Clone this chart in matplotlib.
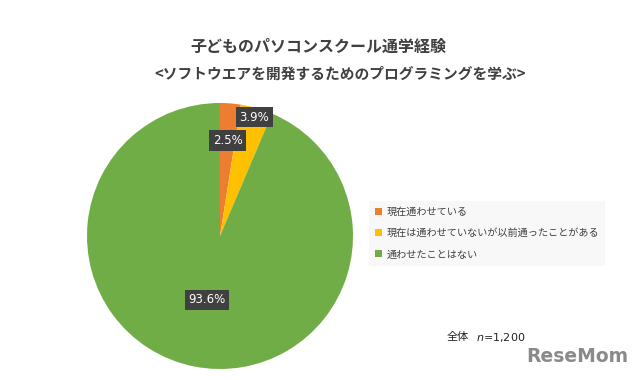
import numpy as np
import matplotlib
matplotlib.use('Agg')
import matplotlib.pyplot as plt
from matplotlib.patches import Patch

plt.rcParams['font.family'] = ['Noto Sans CJK JP', 'DejaVu Sans']

title_lines = ['子どものパソコンスクール通学経験',
               '<ソフトウエアを開発するためのプログラミングを学ぶ>']
categories = ['現在通わせている',
              '現在は通わせていないが以前通ったことがある',
              '通わせたことはない']
shares = [2.5, 3.9, 93.6]
sample_note = '$n$=1,200'

colors = ['#ED7D31', '#FFC000', '#70AD47']
label_radius = [0.72, 0.93, 0.49]

W, H = 640, 380
fig = plt.figure(figsize=(W / 100, H / 100), dpi=100)
fig.patch.set_facecolor('white')

# pie axes: centre (220, 236) px, radius 133 px
cx, cy, r = 220, 236, 133
ax = fig.add_axes([(cx - r) / W, (H - cy - r) / H, 2 * r / W, 2 * r / H])
wedges, _ = ax.pie(shares, colors=colors, startangle=90, counterclock=False,
                   radius=1.0, wedgeprops=dict(linewidth=0))
ax.set_xlim(-1, 1)
ax.set_ylim(-1, 1)
ax.set_aspect('equal')
ax.axis('off')

cum = np.cumsum([0] + shares[:-1])
for v, start, rr in zip(shares, cum, label_radius):
    ang = np.deg2rad((start + v / 2) / 100 * 360)
    x, y = rr * np.sin(ang), rr * np.cos(ang)
    ax.text(x, y, f'{v}%', ha='center', va='center', color='white',
            fontsize=8.5, family='DejaVu Sans',
            bbox=dict(boxstyle='square,pad=0.3', facecolor='#404040',
                      edgecolor='none'))

fig.text(318 / W, 1 - 47 / H, title_lines[0], ha='center', va='center',
         fontsize=11.5, fontweight='bold', color='#404040')
fig.text(340 / W, 1 - 74 / H, title_lines[1], ha='center', va='center',
         fontsize=10.6, fontweight='bold', color='#404040')

handles = [Patch(facecolor=c, edgecolor='none') for c in colors]
leg = fig.legend(handles, categories, loc='upper left',
                 bbox_to_anchor=(364 / W, 1 - 196 / H), frameon=True,
                 fontsize=7.3, handlelength=0.7, handleheight=0.7,
                 handletextpad=0.4, labelspacing=1.1, borderpad=0.6,
                 fancybox=False, labelcolor='#404040')
leg.get_frame().set_facecolor('#F7F7F7')
leg.get_frame().set_edgecolor('none')

fig.text(447 / W, 1 - 337 / H, '全体', ha='left', va='center',
         fontsize=8, color='#222222')
fig.text(476 / W, 1 - 337 / H, sample_note, ha='left', va='center',
         fontsize=8, color='#222222', family='DejaVu Sans')

fig.text(577 / W, 1 - 357 / H, 'ReseMom', ha='center', va='center',
         fontsize=13.5, fontweight='bold', color='#8a8a8a',
         family='DejaVu Sans')

fig.savefig('out.png', dpi=100, facecolor='white')
